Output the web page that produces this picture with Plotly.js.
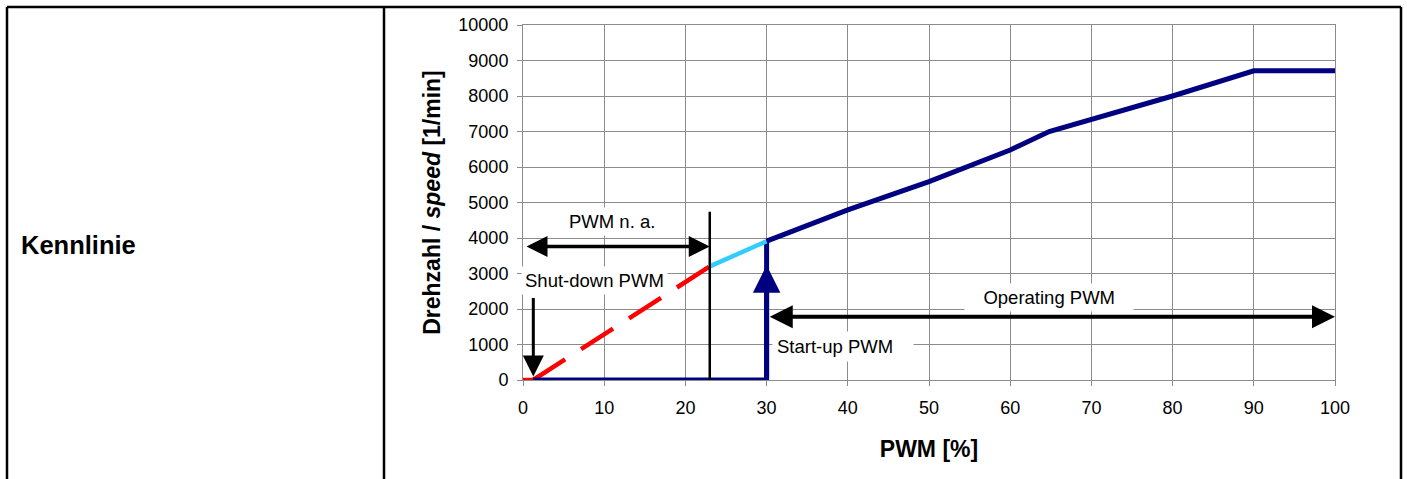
<!DOCTYPE html>
<html>
<head>
<meta charset="utf-8">
<script src="https://cdn.plot.ly/plotly-3.0.1.min.js"></script>
<style>
  html, body { margin: 0; padding: 0; background: #ffffff; }
  #chart { width: 1407px; height: 479px; }
</style>
</head>
<body>
<div id="chart"></div>
<script>
// ---- data ----
const operatingPwm   = [30, 40, 50, 60, 64.8, 70, 80, 90, 100];
const operatingSpeed = [3910, 4790, 5590, 6480, 7000, 7330, 8000, 8710, 8710];

const offPwm   = [1.25, 30, 30];
const offSpeed = [0, 0, 3910];

const naPwm   = [23.0, 30];
const naSpeed = [3200, 3910];

const shutStubPwm   = [0, 1.25];
const shutStubSpeed = [0, 0];
const shutPwm   = [1.25, 23.0];
const shutSpeed = [0, 3200];

const xTicks = [0, 10, 20, 30, 40, 50, 60, 70, 80, 90, 100];
const yTicks = [0, 1000, 2000, 3000, 4000, 5000, 6000, 7000, 8000, 9000, 10000];

// annotation anchors (data units)
const naBoundaryPwm = 23.0, naBoundaryTop = 4740;
const naArrowSpeed = 3760, naArrowFrom = 0.25;
const shutArrowPwm = 1.27, shutArrowTail = 2350, shutArrowTip = 100;
const startArrowPwm = 30, startArrowTip = 3230;
const opArrowSpeed = 1780, opArrowFrom = 30.2, opArrowTo = 100;
const labelNa = {x: 11.0, y: 4460, text: 'PWM n. a.'};
const labelShut = {x: 8.8, y: 2810, text: 'Shut-down PWM'};
const labelOp = {x: 64.8, y: 2310, text: 'Operating PWM'};
const labelStart = {x: 39.0, y: 940, text: 'Start-up PWM'};

// ---- styling ----
const FONT = '"Liberation Sans", Arial, Helvetica, sans-serif';
const NAVY = '#000080';
const GRID = '#8c8c8c';

const traces = [
  {x: shutStubPwm, y: shutStubSpeed, mode: 'lines', line: {color: '#ff0000', width: 4.5}, hoverinfo: 'skip'},
  {x: shutPwm, y: shutSpeed, mode: 'lines', line: {color: '#ff0000', width: 4.5, dash: '38px,19px'}, hoverinfo: 'skip'},
  {x: offPwm, y: offSpeed, mode: 'lines', line: {color: NAVY, width: 5}, hoverinfo: 'skip'},
  {x: naPwm, y: naSpeed, mode: 'lines', line: {color: '#33ccff', width: 4.5}, hoverinfo: 'skip'},
  {x: operatingPwm, y: operatingSpeed, mode: 'lines', line: {color: NAVY, width: 5}, hoverinfo: 'skip'}
];

function px2paperX(p) { return (p - 523) / 812; }
function px2paperY(p) { return (380 - p) / 355; }

const BL = px2paperX(7), BR = px2paperX(1401), BD = px2paperX(384);
const BT = px2paperY(7), BB = px2paperY(490);

const shapes = [
  {type: 'line', xref: 'x', yref: 'y', x0: naBoundaryPwm, x1: naBoundaryPwm, y0: 0, y1: naBoundaryTop,
   line: {color: '#000', width: 2.5}, layer: 'above'},
  {type: 'line', xref: 'paper', yref: 'paper', x0: BL, x1: BR, y0: BT, y1: BT, line: {color: '#000', width: 2.5}},
  {type: 'line', xref: 'paper', yref: 'paper', x0: BL, x1: BL, y0: BT, y1: BB, line: {color: '#000', width: 2.5}},
  {type: 'line', xref: 'paper', yref: 'paper', x0: BD, x1: BD, y0: BT, y1: BB, line: {color: '#000', width: 2.5}},
  {type: 'line', xref: 'paper', yref: 'paper', x0: BR, x1: BR, y0: BT, y1: BB, line: {color: '#000', width: 2.5}}
];

function arrow(x, y, ax, ay, color, width, size, both) {
  return {
    x: x, y: y, ax: ax, ay: ay, xref: 'x', yref: 'y', axref: 'x', ayref: 'y',
    text: '', showarrow: true, arrowhead: 2, arrowsize: size, arrowwidth: width,
    arrowcolor: color, arrowside: both ? 'end+start' : 'end',
    startarrowhead: 2, startarrowsize: size, standoff: 0, startstandoff: 0
  };
}
function label(l, pad) {
  return {
    x: l.x, y: l.y, xref: 'x', yref: 'y', text: l.text, showarrow: false,
    font: {family: FONT, size: 18.5, color: '#000'}, bgcolor: '#ffffff', borderpad: pad,
    xanchor: 'center', yanchor: 'middle'
  };
}

const annotations = [
  label(labelNa, 3),
  label(labelShut, 3),
  label({x: labelOp.x, y: labelOp.y, text: '\u00a0\u00a0\u00a0' + labelOp.text + '\u00a0\u00a0\u00a0'}, 3),
  label({x: labelStart.x + 0.4, y: labelStart.y, text: labelStart.text + '\u00a0\u00a0\u00a0'}, 4),
  arrow(naBoundaryPwm, naArrowSpeed, naArrowFrom, naArrowSpeed, '#000', 3.5, 1.2, true),
  arrow(shutArrowPwm, shutArrowTip, shutArrowPwm, shutArrowTail, '#000', 3, 1.4, false),
  arrow(startArrowPwm, startArrowTip, startArrowPwm, 0, NAVY, 5, 1.1, false),
  arrow(opArrowTo, opArrowSpeed, opArrowFrom, opArrowSpeed, '#000', 4, 1.15, true),
  {xref: 'paper', yref: 'paper', x: px2paperX(19), y: px2paperY(245), xanchor: 'left', yanchor: 'middle',
   text: '<b>Kennlinie</b>', showarrow: false, font: {family: FONT, size: 25.5, color: '#000'}}
];

const axisCommon = {
  showgrid: true, gridcolor: GRID, gridwidth: 1,
  showline: true, mirror: true, linecolor: GRID, linewidth: 1,
  zeroline: false, ticks: 'outside', ticklen: 5, tickcolor: GRID, tickwidth: 1,
  tickfont: {family: FONT, size: 18, color: '#000'}
};

const layout = {
  width: 1407, height: 479,
  margin: {l: 523, r: 72, t: 25, b: 99, pad: 0},
  paper_bgcolor: '#ffffff', plot_bgcolor: '#ffffff',
  showlegend: false,
  font: {family: FONT, color: '#000'},
  xaxis: Object.assign({}, axisCommon, {
    range: [0, 100], tickmode: 'array', tickvals: xTicks, ticktext: xTicks.map(String),
    ticklabelstandoff: 6,
    title: {text: '<b>PWM [%]</b>', font: {family: FONT, size: 23, color: '#000'}, standoff: 24}
  }),
  yaxis: Object.assign({}, axisCommon, {
    range: [0, 10000], tickmode: 'array', tickvals: yTicks, ticktext: yTicks.map(String),
    ticklabelstandoff: 5,
    title: {text: '<b>Drehzahl / <i>speed</i> [1/min]</b>', font: {family: FONT, size: 23, color: '#000'}, standoff: 11}
  }),
  shapes: shapes,
  annotations: annotations
};

Plotly.newPlot('chart', traces, layout, {displayModeBar: false, staticPlot: true});
</script>
</body>
</html>
